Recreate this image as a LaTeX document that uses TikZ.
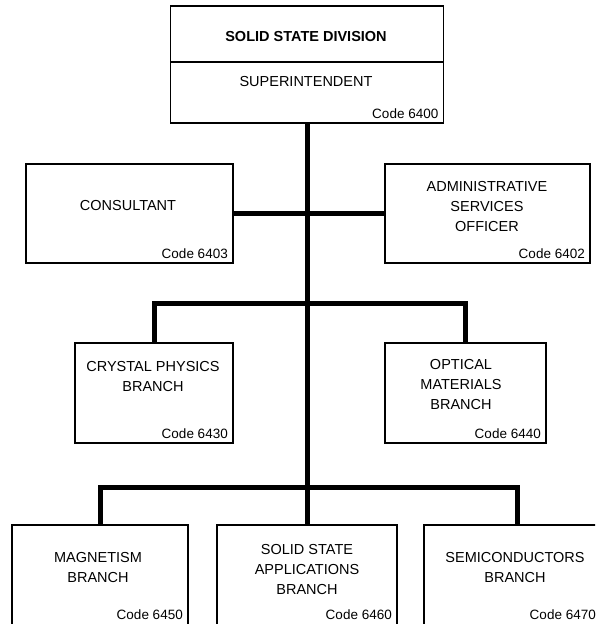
\documentclass[tikz,border=0pt]{standalone}
\usepackage{fontspec}
\setmainfont{Liberation Sans}
\usetikzlibrary{positioning}
\tikzset{
  unit/.style={draw, line width=1.1pt, inner sep=0pt, outer sep=0pt},
  title/.style={align=center, inner sep=0pt, font=\fontsize{14.5}{20}\selectfont},
  codeno/.style={anchor=south east, inner sep=0pt, font=\fontsize{13.5}{16}\selectfont},
  link/.style={line width=5pt},
}
\begin{document}
\begin{tikzpicture}[x=1pt, y=-1pt]
\useasboundingbox (0,0) rectangle (595,624);
\clip (0,0) rectangle (595,624);

% Draw boxes
\node[unit, minimum width=273pt, minimum height=117pt] (top) at (307,64.5) {};
\node[unit, minimum width=207pt, minimum height=99pt] (cons) at (129.5,213.5) {};
\node[unit, minimum width=205pt, minimum height=99pt] (admin) at (487.5,213.5) {};
\node[unit, minimum width=158pt, minimum height=100pt] (crystal) at (154,393) {};
\node[unit, minimum width=161pt, minimum height=100pt] (optical) at (465.5,393) {};
\node[unit, minimum width=176pt, minimum height=102pt] (magnet) at (100,576) {};
\node[unit, minimum width=180pt, minimum height=102pt] (apps) at (307,576) {};
\node[unit, minimum width=196pt, minimum height=102pt] (semi) at (522,576) {};

% Division header line
\coordinate (divl) at ([yshift=2.5pt]top.west);
\coordinate (divr) at ([yshift=2.5pt]top.east);
\draw[line width=1.1pt] (divl) -- (divr);

% Draw connectors
\draw[link] (top.south) -- (top.south |- apps.north);
\draw[link] (cons) -- (admin);
\draw[link] (crystal.north) -- ++(0,-40) -| (optical.north);
\draw[link] (magnet.north) -- ++(0,-38) -| ([xshift=-5pt]semi.north);

% Box titles
\node[title, font=\bfseries\fontsize{14.5}{20}\selectfont] (divname) at (306,37) {SOLID STATE DIVISION};
\node[title] (supt) at (306,82) {SUPERINTENDENT};
\node[title] (consname) at (128,206) {CONSULTANT};
\node[title] (adminname) at (487,207) {ADMINISTRATIVE\\SERVICES\\OFFICER};
\node[title] (crystalname) at (153,377) {CRYSTAL PHYSICS\\BRANCH};
\node[title] (opticalname) at (461,385) {OPTICAL\\MATERIALS\\BRANCH};
\node[title] (magnetname) at (98,568) {MAGNETISM\\BRANCH};
\node[title] (appsname) at (307,570) {SOLID STATE\\APPLICATIONS\\BRANCH};
\node[title] (seminame) at (515,568) {SEMICONDUCTORS\\BRANCH};

% Code numbers
\node[codeno] (c6400) at ([shift={(-5pt,4pt)}]top.south east) {Code 6400};
\node[codeno] (c6403) at ([shift={(-5pt,4pt)}]cons.south east) {Code 6403};
\node[codeno] (c6402) at ([shift={(-5pt,4pt)}]admin.south east) {Code 6402};
\node[codeno] (c6430) at ([shift={(-5pt,4pt)}]crystal.south east) {Code 6430};
\node[codeno] (c6440) at ([shift={(-5pt,4pt)}]optical.south east) {Code 6440};
\node[codeno] (c6450) at ([shift={(-5pt,7pt)}]magnet.south east) {Code 6450};
\node[codeno] (c6460) at ([shift={(-5pt,7pt)}]apps.south east) {Code 6460};
\node[codeno] (c6470) at ([shift={(-24pt,7pt)}]semi.south east) {Code 6470};
\end{tikzpicture}
\end{document}
